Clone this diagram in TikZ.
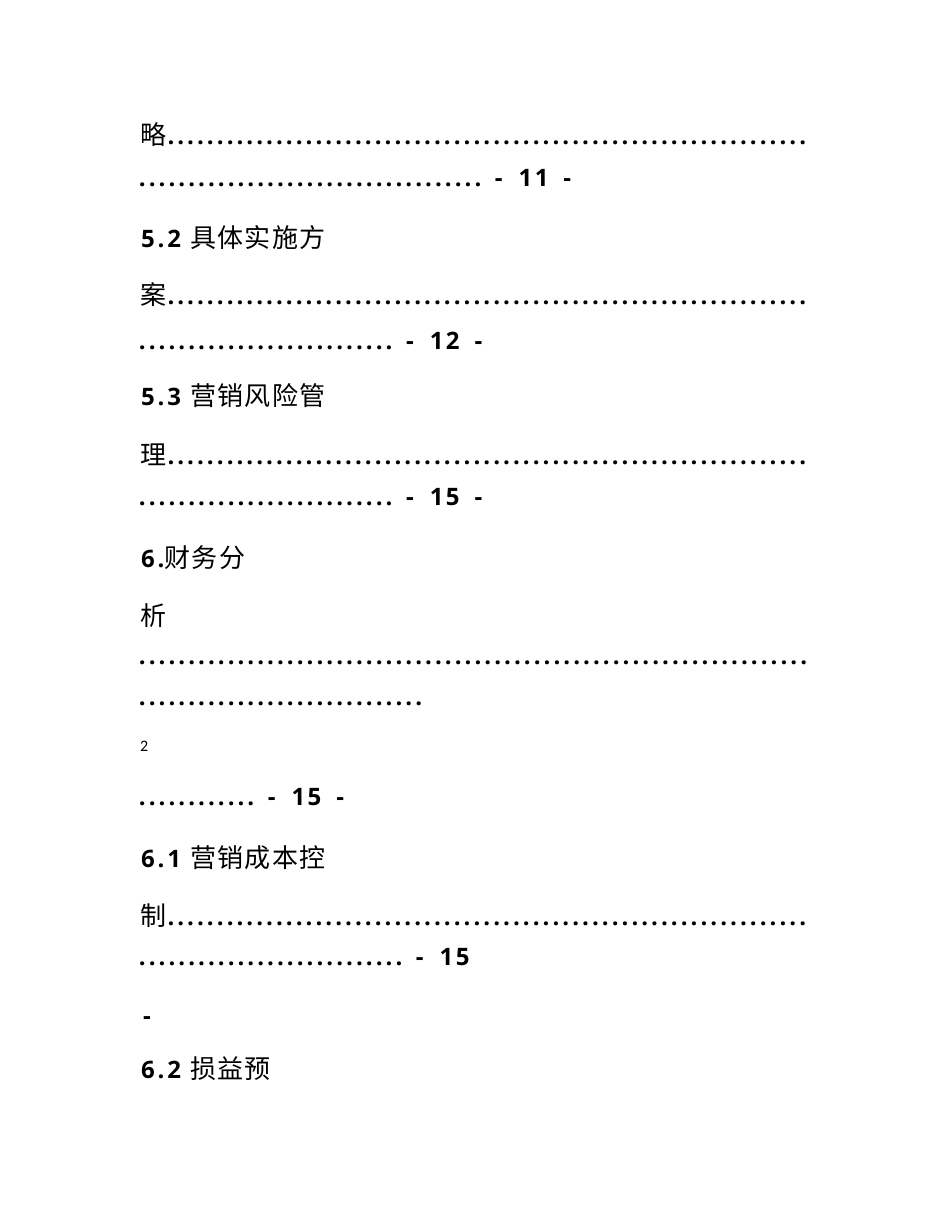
\documentclass[tikz,border=0pt]{standalone}
\usepackage{fontspec}
\setmainfont{Noto Sans CJK SC}
\newfontfamily\cjkfnt{Noto Sans CJK SC}[LetterSpace=5.4]
\newfontfamily\latfnt{Open Sans}[LetterSpace=12]
\newfontfamily\pgfnt{Open Sans}[LetterSpace=10]
\newfontfamily\dotfnt{Open Sans}
\newfontfamily\smallfnt{Carlito}
\newcommand\tocdots[1]{{\dotfnt\bfseries\fontsize{24pt}{30pt}\selectfont\foreach \i in {1,...,#1}{\makebox[9.876pt][c]{.}}}}
\newcommand\cjktxt[1]{{\cjkfnt\fontsize{26pt}{30pt}\selectfont #1}}
\newcommand\pnum[1]{{\latfnt\bfseries\fontsize{24pt}{30pt}\selectfont #1}}
\newcommand\pgnum[1]{{\pgfnt\bfseries\fontsize{24pt}{30pt}\selectfont #1}}
\tikzset{
  line/.style={anchor=base west, inner sep=0pt, outer sep=0pt},
}
\begin{document}
\begin{tikzpicture}[x=1pt,y=1pt]
\fill[white] (0,0) rectangle (950,-1230);
\useasboundingbox (0,0) rectangle (950,-1230);
\node[line] (r1) at (140,-145) {\cjktxt{略}\tocdots{65}};
\node[line] (r2) at (137.4,-187) {\tocdots{35}\hspace{12pt}\pgnum{-\hspace{16pt}11\hspace{15pt}-}};
\node[line] (r3) at (141,-248) {\pnum{5.2}\hspace{9pt}\cjktxt{具体实施方}};
\node[line] (r4) at (140,-305) {\cjktxt{案}\tocdots{65}};
\node[line] (r5) at (137.4,-349) {\tocdots{26}\hspace{12pt}\pgnum{-\hspace{16pt}12\hspace{15pt}-}};
\node[line] (r6) at (141,-405) {\pnum{5.3}\hspace{9pt}\cjktxt{营销风险管}};
\node[line] (r7) at (140,-464) {\cjktxt{理}\tocdots{65}};
\node[line] (r8) at (137.4,-505) {\tocdots{26}\hspace{12pt}\pgnum{-\hspace{16pt}15\hspace{15pt}-}};
\node[line] (r9) at (141,-567) {\pnum{6.}\cjktxt{财务分}};
\node[line] (r10) at (140,-625) {\cjktxt{析}};
\node[line] (r11) at (137.4,-664) {\tocdots{68}};
\node[line] (r12) at (137.4,-705) {\tocdots{29}};
\node[line] (r13) at (140,-751) {{\smallfnt\fontsize{16pt}{18pt}\selectfont 2}};
\node[line] (r14) at (137.4,-805) {\tocdots{12}\hspace{12pt}\pgnum{-\hspace{16pt}15\hspace{15pt}-}};
\node[line] (r15) at (141,-867) {\pnum{6.1}\hspace{9pt}\cjktxt{营销成本控}};
\node[line] (r16) at (140,-925) {\cjktxt{制}\tocdots{65}};
\node[line] (r17) at (137.4,-965) {\tocdots{27}\hspace{12pt}\pgnum{-\hspace{16pt}15}};
\node[line] (r18) at (143,-1024) {\pgnum{-}};
\node[line] (r19) at (141,-1078) {\pnum{6.2}\hspace{9pt}\cjktxt{损益预}};
\end{tikzpicture}
\end{document}
